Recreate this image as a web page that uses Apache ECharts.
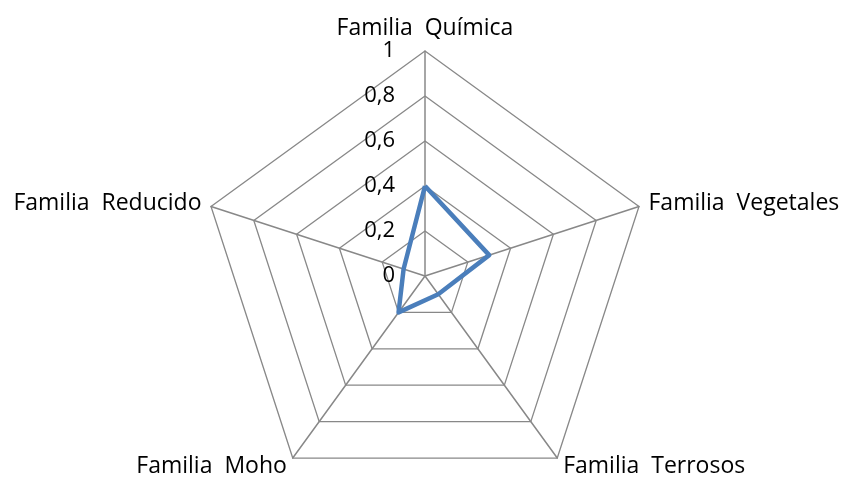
<!DOCTYPE html>
<html>
<head>
<meta charset="utf-8">
<script src="https://cdn.jsdelivr.net/npm/echarts@6/dist/echarts.min.js"></script>
<style>
  html, body { margin: 0; padding: 0; background: #fff; }
  #chart { width: 845px; height: 478px; }
</style>
</head>
<body>
<div id="chart"></div>
<script>
// clockwise from top
var familias = ['Familia  Química', 'Familia  Vegetales', 'Familia  Terrosos', 'Familia  Moho', 'Familia  Reducido'];
var valores = [0.4, 0.3, 0.1, 0.2, 0.1];
var maximo = 1;

var font = '"Open Sans", sans-serif';

// echarts draws radar axes counter-clockwise, so reverse everything after the first
function cw(arr) {
    return [arr[0]].concat(arr.slice(1).reverse());
}

var indicadores = cw(familias).map(function (n, i) {
    var ind = { name: n, min: 0, max: maximo };
    if (i === 0) {
        ind.axisLabel = {
            show: true,
            color: '#000',
            fontSize: 22,
            fontFamily: font,
            margin: 30,
            formatter: function (v) { return String(v).replace('.', ','); }
        };
    }
    return ind;
});

var myChart = echarts.init(document.getElementById('chart'));
myChart.setOption({
    animation: false,
    radar: {
        center: [425, 276],
        radius: 225,
        startAngle: 90,
        shape: 'polygon',
        splitNumber: 5,
        indicator: indicadores,
        nameGap: 10,
        axisName: {
            color: '#000',
            fontSize: 23,
            fontFamily: font
        },
        axisLine: { lineStyle: { color: '#888', width: 1.5 } },
        splitLine: { lineStyle: { color: '#888', width: 1.3 } },
        splitArea: { show: false },
        axisTick: { show: false }
    },
    series: [
        {
            type: 'radar',
            symbol: 'none',
            lineStyle: { color: '#4a7ebb', width: 4.5 },
            data: [{ value: cw(valores), name: 'Serie 1' }]
        }
    ]
});
</script>
</body>
</html>
